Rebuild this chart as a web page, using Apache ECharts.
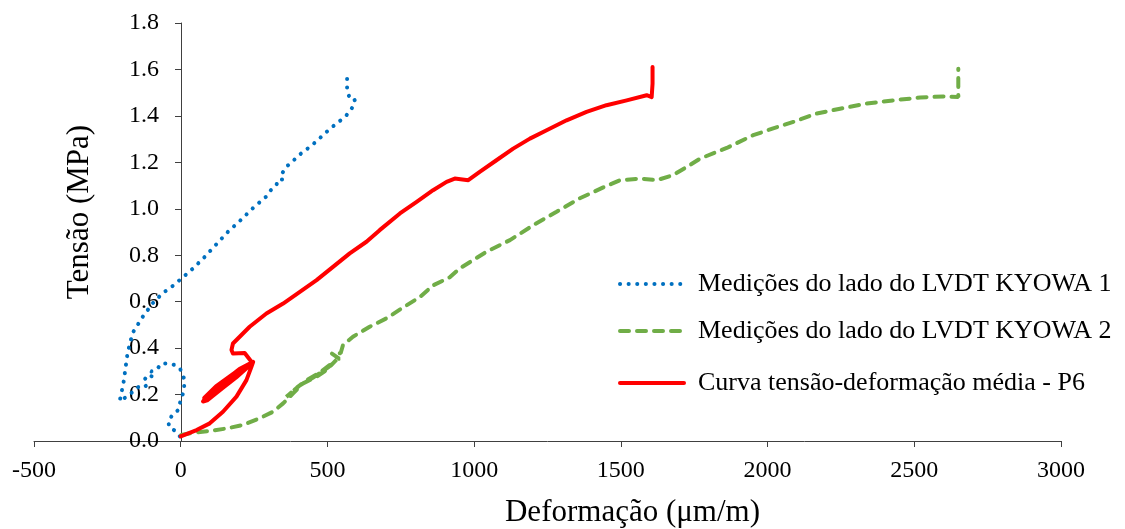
<!DOCTYPE html>
<html>
<head>
<meta charset="utf-8">
<script src="https://cdn.jsdelivr.net/npm/echarts@6/dist/echarts.min.js"></script>
<style>
html,body{margin:0;padding:0;background:#fff;}
#chart{width:1125px;height:529px;}
</style>
</head>
<body>
<div id="chart"></div>
<script>
// ---- data ----
const xTicks = { min: -500, max: 3000, interval: 500 };
const yTicks = { min: 0, max: 1.8, interval: 0.2 };

const seriesNames = [
  'Medições do lado do LVDT KYOWA 1',
  'Medições do lado do LVDT KYOWA 2',
  'Curva tensão-deformação média - P6'
];

const kyowa1Strain = [-3,-20,-37,-43,-32,-9,-3,8,14,8,-3,-20,-43,-66,-80,-100,-92,-112,-128,-118,-145,-165,-185,-208,-195,-181,-164,-130,-95,-61,-27,3,42,82,122,161,204,247,290,307,326,332,349,347,362,385,406,429,451,472,491,510,528,548,565,580,590,593,587,574,567,567,567,567];
const kyowa1Stress = [0.02,0.045,0.055,0.083,0.105,0.133,0.162,0.205,0.255,0.284,0.313,0.327,0.334,0.334,0.31,0.30,0.275,0.285,0.255,0.235,0.232,0.21,0.19,0.172,0.25,0.38,0.465,0.534,0.594,0.637,0.668,0.70,0.743,0.793,0.848,0.901,0.951,1.004,1.051,1.080,1.102,1.126,1.126,1.155,1.183,1.209,1.234,1.256,1.278,1.302,1.324,1.346,1.364,1.384,1.403,1.427,1.446,1.467,1.484,1.484,1.507,1.539,1.567,1.589];

const kyowa2Strain = [2,42,99,156,212,269,315,349,383,417,463,497,531,480,420,360,400,450,500,540,515,545,553,587,644,701,758,815,860,917,951,1042,1122,1201,1281,1360,1440,1497,1565,1622,1678,1735,1770,1861,1951,2019,2088,2167,2247,2338,2429,2520,2599,2650,2650,2650];
const kyowa2Stress = [0.026,0.036,0.043,0.054,0.069,0.098,0.126,0.162,0.205,0.248,0.277,0.306,0.350,0.30,0.255,0.19,0.235,0.272,0.315,0.355,0.377,0.378,0.413,0.449,0.492,0.528,0.575,0.62,0.67,0.705,0.743,0.815,0.865,0.929,0.987,1.045,1.092,1.123,1.130,1.123,1.145,1.188,1.216,1.262,1.317,1.346,1.374,1.410,1.431,1.453,1.467,1.479,1.484,1.481,1.539,1.603];

const meanStrain = [0,54,99,144,190,224,241,247,200,150,100,76,90,140,190,230,240,180,120,80,130,200,245,218,178,173,178,201,235,292,349,406,463,519,576,633,678,747,804,860,906,934,980,1019,1076,1133,1190,1247,1315,1383,1451,1520,1588,1605,1608,1608];
const meanStress = [0.02,0.047,0.076,0.126,0.191,0.262,0.320,0.341,0.31,0.26,0.21,0.17,0.175,0.225,0.275,0.32,0.335,0.29,0.235,0.185,0.23,0.295,0.335,0.379,0.377,0.392,0.420,0.449,0.492,0.549,0.592,0.642,0.693,0.750,0.808,0.858,0.908,0.980,1.030,1.080,1.116,1.130,1.123,1.159,1.209,1.259,1.302,1.338,1.381,1.417,1.446,1.467,1.489,1.481,1.539,1.611];

// ---- chart ----
function pairs(xs, ys) { return xs.map((x, i) => [x, ys[i]]); }
const FONT = 'Liberation Serif';

const GRID_LEFT = 34, GRID_RIGHT = 64;
const plotWidth = 1125 - GRID_LEFT - GRID_RIGHT;
const yAxisOffset = -Math.round((0 - xTicks.min) / (xTicks.max - xTicks.min) * plotWidth);

const chart = echarts.init(document.getElementById('chart'), null, { renderer: 'canvas' });

function legendAt(name, top) {
  return {
    data: [name],
    left: 618,
    top: top,
    padding: 0,
    itemWidth: 64,
    itemHeight: 14,
    selectedMode: false,
    itemStyle: { opacity: 0 },
    lineStyle: { width: 4, cap: 'round' },
    textStyle: { fontFamily: FONT, fontSize: 26, color: '#000', padding: [0, 0, 0, 9] }
  };
}

chart.setOption({
  animation: false,
  backgroundColor: '#fff',
  textStyle: { fontFamily: FONT, color: '#000' },
  grid: { left: GRID_LEFT, right: GRID_RIGHT, top: 23, bottom: 88, containLabel: false, outerBoundsMode: 'none' },
  legend: [
    legendAt(seriesNames[0], 271),
    legendAt(seriesNames[1], 318),
    legendAt(seriesNames[2], 370)
  ],
  xAxis: {
    type: 'value',
    min: xTicks.min, max: xTicks.max, interval: xTicks.interval,
    name: 'Deformação (μm/m)',
    nameLocation: 'middle',
    nameGap: 56,
    nameTextStyle: { fontFamily: FONT, fontSize: 31, color: '#000', padding: [0, 0, 0, 170] },
    axisLine: { onZero: false, lineStyle: { color: '#404040', width: 1 } },
    axisTick: { show: true, length: 6, inside: false, lineStyle: { color: '#404040' } },
    axisLabel: { fontFamily: FONT, fontSize: 24, color: '#000', margin: 18, formatter: v => String(v) },
    splitLine: { show: false }
  },
  yAxis: {
    type: 'value',
    position: 'left',
    offset: yAxisOffset,
    min: yTicks.min, max: yTicks.max, interval: yTicks.interval,
    name: 'Tensão (MPa)',
    nameLocation: 'middle',
    nameGap: 86,
    nameTextStyle: { fontFamily: FONT, fontSize: 31, color: '#000', padding: [0, 0, 0, 40] },
    axisLine: { show: true, onZero: false, lineStyle: { color: '#404040', width: 1 } },
    axisTick: { show: true, length: 6, inside: false, lineStyle: { color: '#404040' } },
    axisLabel: { fontFamily: FONT, fontSize: 24, color: '#000', margin: 22, formatter: v => v.toFixed(1) },
    splitLine: { show: false }
  },
  series: [
    {
      name: seriesNames[0], type: 'line', data: pairs(kyowa1Strain, kyowa1Stress),
      showSymbol: false, symbol: 'none', smooth: false,
      lineStyle: { color: '#0070C0', width: 4, type: [0.1, 8.5], cap: 'round' },
      itemStyle: { color: '#0070C0' }
    },
    {
      name: seriesNames[1], type: 'line', data: pairs(kyowa2Strain, kyowa2Stress),
      showSymbol: false, symbol: 'none', smooth: false,
      lineStyle: { color: '#70AD47', width: 4, type: [9, 8], cap: 'round' },
      itemStyle: { color: '#70AD47' }
    },
    {
      name: seriesNames[2], type: 'line', data: pairs(meanStrain, meanStress),
      showSymbol: false, symbol: 'none', smooth: false,
      lineStyle: { color: '#FF0000', width: 4, cap: 'round', join: 'round' },
      itemStyle: { color: '#FF0000' }
    }
  ]
});
</script>
</body>
</html>
